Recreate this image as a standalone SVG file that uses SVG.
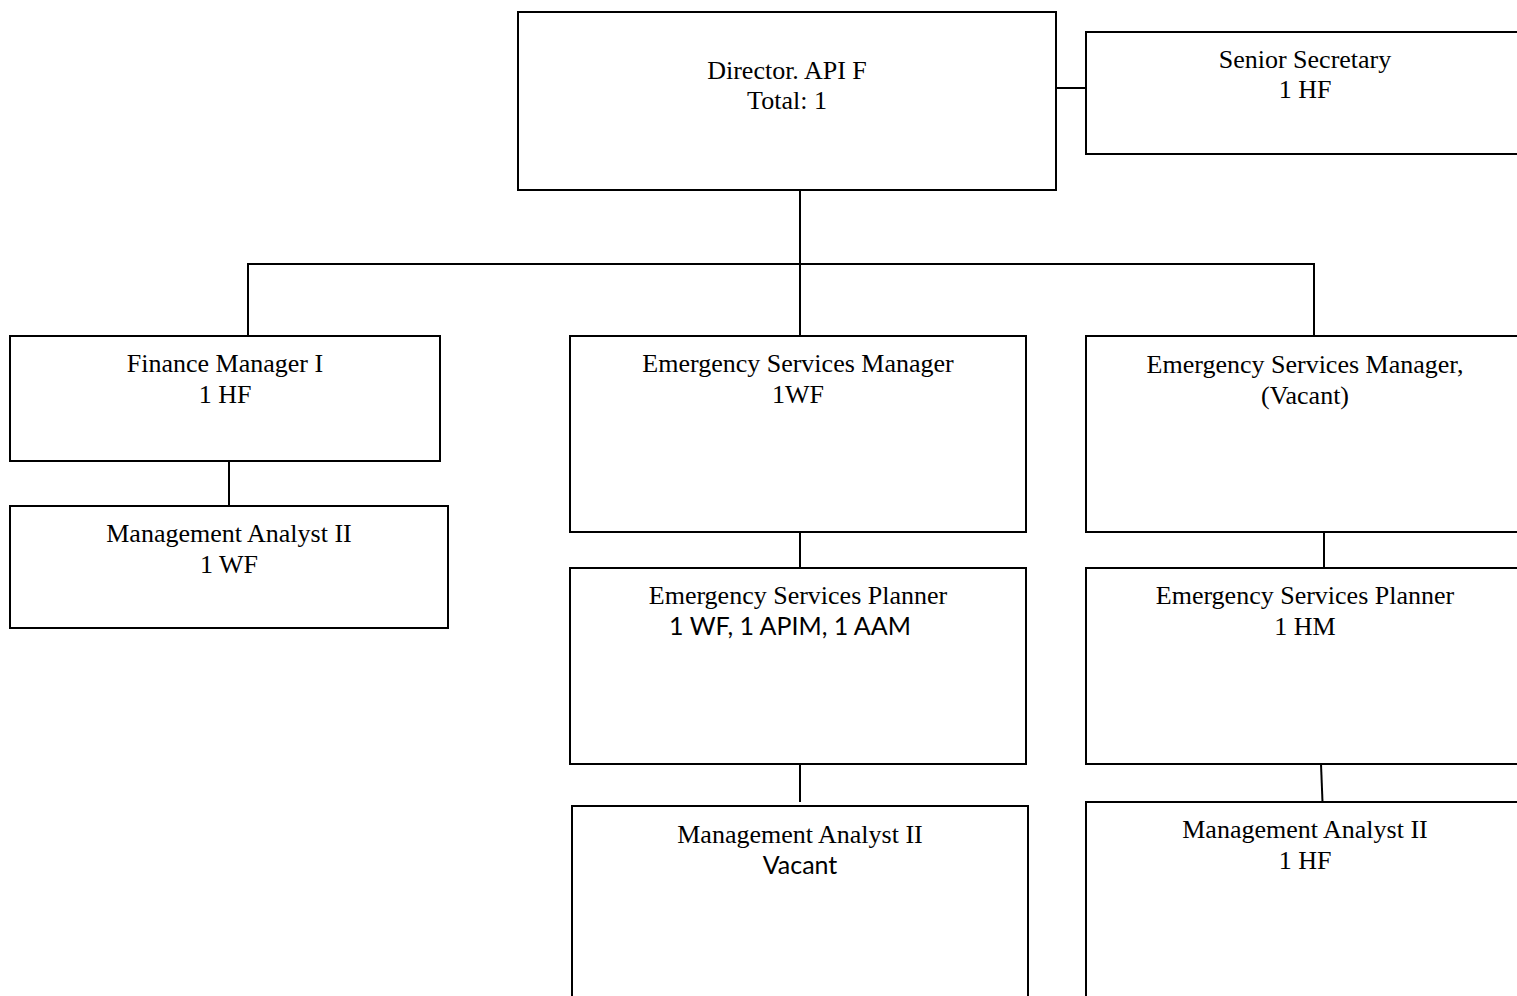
<svg xmlns="http://www.w3.org/2000/svg" width="1517" height="996" viewBox="0 0 1517 996">
<style>
  .box { fill: #ffffff; stroke: #000000; stroke-width: 2; }
  .conn { stroke: #000000; stroke-width: 2; fill: none; }
  .t { font-family: 'Liberation Serif', 'Times New Roman', Times, 'DejaVu Serif', serif; font-size: 26px; fill: #000000; text-anchor: middle; }
  .sans { font-family: Lato, 'Open Sans', 'Liberation Sans', sans-serif; font-size: 25px; fill: #000000; text-anchor: middle; }
</style>
<rect width="1517" height="996" fill="#ffffff"/>
<g id="connectors">
  <line class="conn" x1="1056" y1="88" x2="1086" y2="88"/>
  <line class="conn" x1="800" y1="190" x2="800" y2="264"/>
  <line class="conn" x1="247" y1="264" x2="1315" y2="264"/>
  <line class="conn" x1="248" y1="264" x2="248" y2="336"/>
  <line class="conn" x1="800" y1="264" x2="800" y2="336"/>
  <line class="conn" x1="1314" y1="264" x2="1314" y2="336"/>
  <line class="conn" x1="229" y1="461" x2="229" y2="506"/>
  <line class="conn" x1="800" y1="532" x2="800" y2="568"/>
  <line class="conn" x1="1324" y1="532" x2="1324" y2="568"/>
  <line class="conn" x1="800" y1="764" x2="800" y2="802"/>
  <line class="conn" x1="1321" y1="764" x2="1322.5" y2="802"/>
</g>
<g id="director">
  <rect class="box" x="518" y="12" width="538" height="178"/>
  <text class="t" x="787" y="79">Director. API F</text>
  <text class="t" x="787" y="109">Total: 1</text>
</g>
<g id="senior-secretary">
  <rect class="box" x="1086" y="32" width="440" height="122"/>
  <text class="t" x="1305" y="68">Senior Secretary</text>
  <text class="t" x="1305" y="98">1 HF</text>
</g>
<g id="finance-manager">
  <rect class="box" x="10" y="336" width="430" height="125"/>
  <text class="t" x="225" y="372">Finance Manager I</text>
  <text class="t" x="225" y="403">1 HF</text>
</g>
<g id="management-analyst-left">
  <rect class="box" x="10" y="506" width="438" height="122"/>
  <text class="t" x="229" y="542">Management Analyst II</text>
  <text class="t" x="229" y="573">1 WF</text>
</g>
<g id="esm-center">
  <rect class="box" x="570" y="336" width="456" height="196"/>
  <text class="t" x="798" y="372">Emergency Services Manager</text>
  <text class="t" x="798" y="403">1WF</text>
</g>
<g id="esm-right">
  <rect class="box" x="1086" y="336" width="440" height="196"/>
  <text class="t" x="1305" y="373">Emergency Services Manager,</text>
  <text class="t" x="1305" y="404">(Vacant)</text>
</g>
<g id="esp-center">
  <rect class="box" x="570" y="568" width="456" height="196"/>
  <text class="t" x="798" y="604">Emergency Services Planner</text>
  <text class="sans" x="790" y="635">1 WF, 1 APIM, 1 AAM</text>
</g>
<g id="esp-right">
  <rect class="box" x="1086" y="568" width="440" height="196"/>
  <text class="t" x="1305" y="604">Emergency Services Planner</text>
  <text class="t" x="1305" y="635">1 HM</text>
</g>
<g id="ma-vacant">
  <rect class="box" x="572" y="806" width="456" height="200"/>
  <text class="t" x="800" y="843">Management Analyst II</text>
  <text class="sans" x="800" y="874">Vacant</text>
</g>
<g id="ma-right">
  <rect class="box" x="1086" y="802" width="440" height="200"/>
  <text class="t" x="1305" y="838">Management Analyst II</text>
  <text class="t" x="1305" y="869">1 HF</text>
</g>
</svg>
